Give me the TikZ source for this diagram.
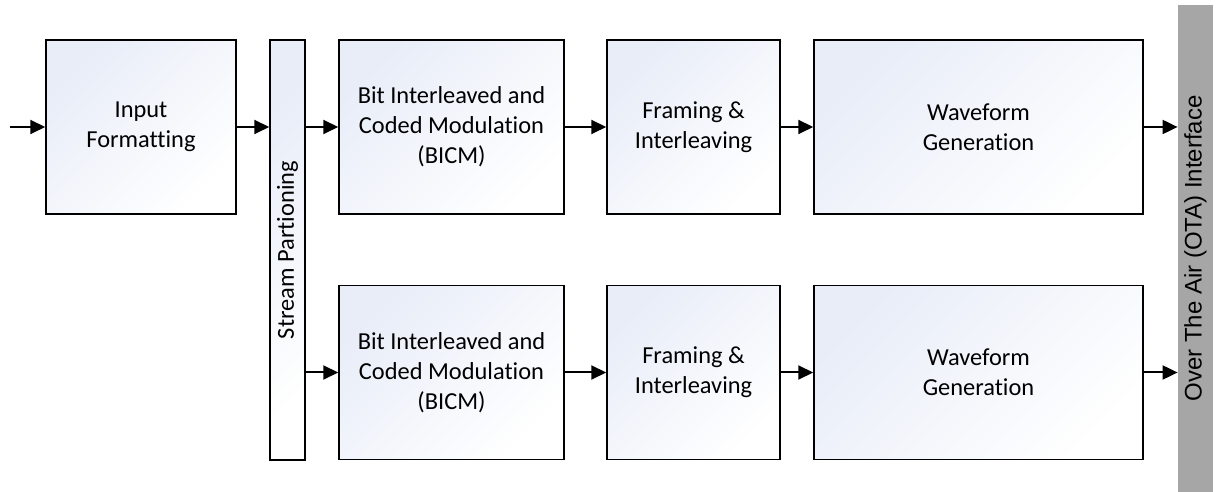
\documentclass[tikz,border=0pt]{standalone}
\usepackage{fontspec}
\setmainfont{Carlito}[Ligatures=NoCommon]
\newfontfamily\otafont{Liberation Sans}
\usetikzlibrary{arrows.meta}
\definecolor{blockblue}{RGB}{232,237,248}
\definecolor{otagray}{RGB}{166,166,166}

\begin{document}
\begin{tikzpicture}[
    x=1pt, y=1pt,
    font=\fontsize{12.2}{15}\selectfont,
    block/.style={draw=black, line width=0.75pt, top color=blockblue, bottom color=white, shading angle=45, align=center, inner sep=0pt, minimum height=87pt},
    flow/.style={-{Triangle[length=7.5pt,width=7pt]}, line width=1pt}
    ]
    \useasboundingbox (0,0) rectangle (608,246);

    \node [block, minimum width=95pt] (input) at (70.5,182.5) {Input\\Formatting};
    \node [block, minimum width=17.5pt, minimum height=210pt,
           label={[rotate=90]center:Stream Partioning}] (stream) at (143.75,121) {};

    % two identical chains
    \foreach \row/\y in {1/182.5, 2/59.75} {
        \node [block, minimum width=112.5pt] (bicm\row) at (225.75,\y) {Bit Interleaved and\\Coded Modulation\\(BICM)};
        \node [block, minimum width=86.5pt] (frame\row) at (346.75,\y) {Framing \&\\Interleaving};
        \node [block, minimum width=164.5pt] (wave\row) at (489.25,\y) {Waveform\\Generation};
    }

    \node [fill=otagray, minimum width=17.5pt, minimum height=243.5pt, inner sep=0pt,
           label={[rotate=90, font=\otafont\fontsize{12}{15}\selectfont]center:Over The Air (OTA) Interface}] (ota) at (597.75,121.75) {};

    \coordinate (in) at (5,182.5);
    \draw [flow] (in) -- (input.west);
    \draw [flow] (input.east) -- (input.east -| stream.west);
    \foreach \row in {1,2} {
        \draw [flow] (stream.east |- bicm\row.west) -- (bicm\row.west);
        \draw [flow] (bicm\row.east) -- (frame\row.west);
        \draw [flow] (frame\row.east) -- (wave\row.west);
        \draw [flow] (wave\row.east) -- (wave\row.east -| ota.west);
    }
\end{tikzpicture}
\end{document}
